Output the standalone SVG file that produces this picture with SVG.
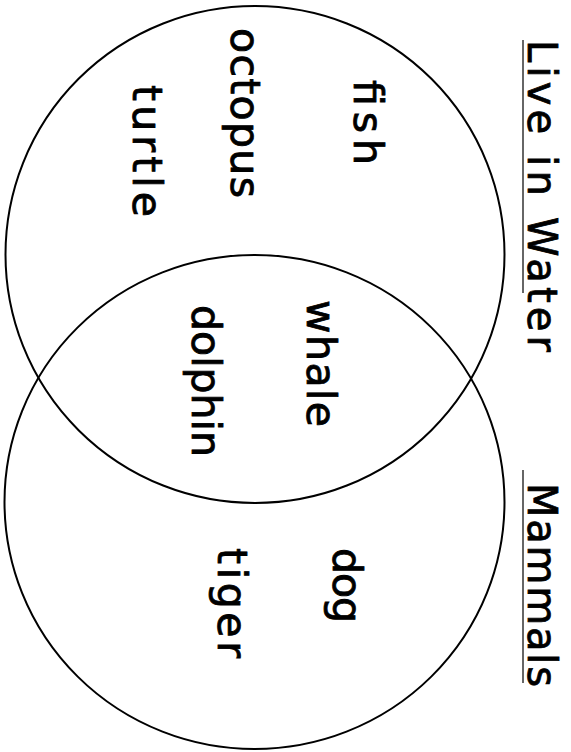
<svg xmlns="http://www.w3.org/2000/svg" width="571" height="752" viewBox="0 0 571 752">
<style>
.set{fill:none;stroke:#000;stroke-width:2}
.t{font-family:"DejaVu Sans","Liberation Sans",sans-serif;font-size:41px;fill:#000;stroke:#000;stroke-width:0.8}
.h{font-family:"DejaVu Sans","Liberation Sans",sans-serif;font-size:40px;fill:#000;stroke:#000;stroke-width:0.8}
.ul{stroke:#333;stroke-width:1.5}
</style>
<rect width="571" height="752" fill="#fff"/>
<g id="set-water"><ellipse class="set" cx="255" cy="254.5" rx="249.5" ry="248.5"/></g>
<g id="set-mammals"><ellipse class="set" cx="254.5" cy="502" rx="250" ry="247"/></g>
<g id="title-water">
<text class="h" transform="translate(528,40) rotate(90)" textLength="312" lengthAdjust="spacing">Live in Water</text>
<line class="ul" x1="523" y1="40" x2="523" y2="293"/>
</g>
<g id="title-mammals">
<text class="h" transform="translate(528,483) rotate(90)" textLength="204" lengthAdjust="spacing">Mammals</text>
<line class="ul" x1="523" y1="470" x2="523" y2="683"/>
</g>
<g id="fish"><text class="t" transform="translate(354,80) rotate(90)" textLength="85" lengthAdjust="spacing">fish</text></g>
<g id="octopus"><text class="t" transform="translate(231,28) rotate(90)" textLength="170" lengthAdjust="spacing">octopus</text></g>
<g id="turtle"><text class="t" transform="translate(133,85) rotate(90)" textLength="132" lengthAdjust="spacing">turtle</text></g>
<g id="whale"><text class="t" transform="translate(307,300) rotate(90)" textLength="127" lengthAdjust="spacing">whale</text></g>
<g id="dolphin"><text class="t" transform="translate(192,305) rotate(90)" textLength="152" lengthAdjust="spacing">dolphin</text></g>
<g id="dog"><text class="t" transform="translate(333,548) rotate(90)" textLength="75" lengthAdjust="spacing">dog</text></g>
<g id="tiger"><text class="t" transform="translate(218,548) rotate(90)" textLength="110" lengthAdjust="spacing">tiger</text></g>
<g id="connectors"></g>
</svg>
